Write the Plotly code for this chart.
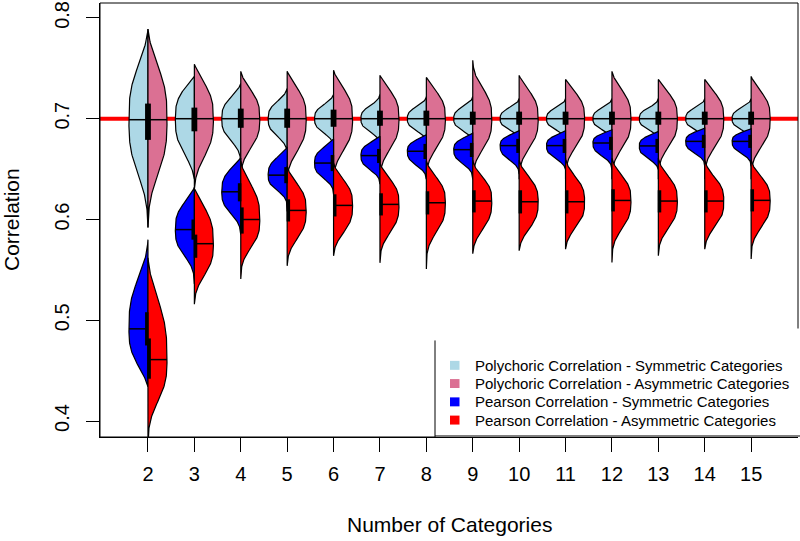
import numpy as np
import plotly.graph_objects as go

# ---------------- data ----------------
categories = [2, 3, 4, 5, 6, 7, 8, 9, 10, 11, 12, 13, 14, 15]

# Polychoric correlation - symmetric categories (left half, light blue)
ps_med = [0.699, 0.700, 0.700, 0.700, 0.700, 0.700, 0.700, 0.700, 0.700, 0.700, 0.700, 0.700, 0.700, 0.700]
ps_lo = [0.592, 0.640, 0.650, 0.660, 0.665, 0.668, 0.670, 0.672, 0.673, 0.674, 0.675, 0.675, 0.676, 0.676]
ps_hi = [0.789, 0.742, 0.735, 0.730, 0.724, 0.724, 0.722, 0.722, 0.720, 0.720, 0.720, 0.720, 0.720, 0.720]
ps_sd = [0.050, 0.033, 0.020, 0.016, 0.013, 0.012, 0.011, 0.011, 0.010, 0.010, 0.010, 0.010, 0.010, 0.010]

# Polychoric correlation - asymmetric categories (right half, pink)
pa_med = [0.699, 0.700, 0.700, 0.700, 0.700, 0.700, 0.700, 0.700, 0.700, 0.700, 0.700, 0.700, 0.700, 0.700]
pa_lo = [0.592, 0.630, 0.640, 0.640, 0.640, 0.640, 0.640, 0.640, 0.640, 0.640, 0.640, 0.640, 0.640, 0.640]
pa_hi = [0.789, 0.754, 0.747, 0.747, 0.748, 0.743, 0.741, 0.758, 0.743, 0.739, 0.747, 0.739, 0.739, 0.742]
pa_sd = [0.050, 0.035, 0.027, 0.030, 0.029, 0.028, 0.027, 0.028, 0.027, 0.026, 0.027, 0.026, 0.026, 0.026]
poly_q1 = [0.679, 0.6875, 0.691, 0.691, 0.692, 0.693, 0.693, 0.694, 0.694, 0.694, 0.694, 0.694, 0.694, 0.694]
poly_q3 = [0.715, 0.711, 0.710, 0.710, 0.709, 0.708, 0.708, 0.707, 0.707, 0.707, 0.707, 0.707, 0.707, 0.707]

# Pearson correlation - symmetric categories (left half, blue)
bs_med = [0.4915, 0.590, 0.6275, 0.644, 0.656, 0.6634, 0.6677, 0.6693, 0.6733, 0.6733, 0.6759, 0.673, 0.6775, 0.6775]
bs_lo = [0.434, 0.536, 0.585, 0.608, 0.625, 0.635, 0.640, 0.640, 0.645, 0.6496, 0.6496, 0.6496, 0.6528, 0.6528]
bs_hi = [0.580, 0.632, 0.661, 0.672, 0.680, 0.6825, 0.684, 0.6857, 0.688, 0.688, 0.689, 0.6874, 0.6907, 0.690]
bs_sd_up = [0.046, 0.026, 0.024, 0.017, 0.015, 0.013, 0.012, 0.012, 0.011, 0.011, 0.010, 0.011, 0.010, 0.010]
bs_sd_dn = [0.035, 0.024, 0.020, 0.014, 0.014, 0.013, 0.013, 0.013, 0.013, 0.012, 0.012, 0.012, 0.011, 0.011]
bs_q1 = [0.475, 0.580, 0.618, 0.636, 0.648, 0.656, 0.660, 0.662, 0.666, 0.666, 0.669, 0.666, 0.671, 0.671]
bs_q3 = [0.508, 0.600, 0.636, 0.652, 0.664, 0.670, 0.675, 0.676, 0.680, 0.680, 0.682, 0.680, 0.684, 0.684]

# Pearson correlation - asymmetric categories (right half, red)
ba_med = [0.461, 0.576, 0.600, 0.609, 0.614, 0.615, 0.6166, 0.6183, 0.6176, 0.6176, 0.6189, 0.6183, 0.6183, 0.619]
ba_lo = [0.375, 0.516, 0.541, 0.554, 0.564, 0.557, 0.551, 0.566, 0.569, 0.5706, 0.5573, 0.564, 0.5706, 0.5608]
ba_hi = [0.562, 0.631, 0.658, 0.653, 0.656, 0.656, 0.658, 0.659, 0.659, 0.661, 0.661, 0.661, 0.6594, 0.6594]
ba_sd_up = [0.056, 0.036, 0.033, 0.025, 0.024, 0.024, 0.024, 0.022, 0.023, 0.023, 0.023, 0.023, 0.022, 0.022]
ba_sd_dn = [0.038, 0.029, 0.026, 0.026, 0.025, 0.026, 0.027, 0.026, 0.025, 0.024, 0.026, 0.025, 0.024, 0.025]
ba_q1 = [0.442, 0.562, 0.586, 0.598, 0.603, 0.604, 0.605, 0.607, 0.606, 0.606, 0.608, 0.607, 0.607, 0.608]
ba_q3 = [0.482, 0.585, 0.612, 0.620, 0.625, 0.626, 0.628, 0.629, 0.629, 0.629, 0.630, 0.629, 0.629, 0.630]

y_ticks = [0.4, 0.5, 0.6, 0.7, 0.8]
y_ticktext = ["0.4", "0.5", "0.6", "0.7", "0.8"]
ref_value = 0.7

legend_labels = [
    "Polychoric Correlation - Symmetric Categories",
    "Polychoric Correlation - Asymmetric Categories",
    "Pearson Correlation - Symmetric Categories",
    "Pearson Correlation - Asymmetric Categories",
]
COL_PS = "#ADD8E6"
COL_PA = "#DB7093"
COL_BS = "#0000FF"
COL_BA = "#FF0000"
legend_colors = [COL_PS, COL_PA, COL_BS, COL_BA]

# ---------------- drawing ----------------
HALF_W = 0.41
EXP = 3.0
FONT = "Liberation Sans, Arial, Helvetica, sans-serif"

fig = go.Figure()


def profile(med, lo, hi, s_up, s_dn, n=160):
    v = np.unique(np.concatenate([np.linspace(lo, hi, n), [med]]))
    d = v - med
    s = np.where(d >= 0, s_up, s_dn)
    ext = np.where(d >= 0, hi - med, med - lo)
    g = np.exp(-0.5 * np.abs(d / s) ** EXP)
    gend = np.exp(-0.5 * (ext / s) ** EXP)
    r = np.clip((g - gend) / (1 - gend), 0, 1)
    return v, r


def add_half(c, side, med, lo, hi, s_up, s_dn, color):
    v, r = profile(med, lo, hi, s_up, s_dn)
    xs = list(c + side * HALF_W * r) + [c, c]
    ys = list(v) + [hi, lo]
    fig.add_trace(go.Scatter(
        x=xs, y=ys, mode="lines", fill="toself", fillcolor=color,
        line=dict(color="black", width=1.2), hoverinfo="skip", showlegend=False))


def add_details(groups):
    mx, my, bx, by = [], [], [], []
    for (c, side, med, q1, q3) in groups:
        mx += [c, c + side * HALF_W, None]
        my += [med, med, None]
        bx += [c + side * 0.025, c + side * 0.025, None]
        by += [q1, q3, None]
    fig.add_trace(go.Scatter(x=mx, y=my, mode="lines", line=dict(color="black", width=1.5),
                             hoverinfo="skip", showlegend=False))
    fig.add_trace(go.Scatter(x=bx, y=by, mode="lines", line=dict(color="black", width=3.5),
                             hoverinfo="skip", showlegend=False))


# polychoric first
det = []
for i, c in enumerate(categories):
    add_half(c, -1, ps_med[i], ps_lo[i], ps_hi[i], ps_sd[i], ps_sd[i], COL_PS)
    add_half(c, +1, pa_med[i], pa_lo[i], pa_hi[i], pa_sd[i], pa_sd[i], COL_PA)
    det.append((c, -1, ps_med[i], poly_q1[i], poly_q3[i]))
    det.append((c, +1, pa_med[i], poly_q1[i], poly_q3[i]))
add_details(det)

# pearson on top
det = []
for i, c in enumerate(categories):
    add_half(c, -1, bs_med[i], bs_lo[i], bs_hi[i], bs_sd_up[i], bs_sd_dn[i], COL_BS)
    add_half(c, +1, ba_med[i], ba_lo[i], ba_hi[i], ba_sd_up[i], ba_sd_dn[i], COL_BA)
    det.append((c, -1, bs_med[i], bs_q1[i], bs_q3[i]))
    det.append((c, +1, ba_med[i], ba_q1[i], ba_q3[i]))
add_details(det)

# plot geometry (pixels) used for placing legend / titles
L, R, T, B = 100, 2, 1, 104
PW, PH = 800 - L - R, 541 - T - B


def px_x(p):
    return (p - L) / PW


def px_y(p):
    return (541 - B - p) / PH


shapes = [
    dict(type="line", xref="paper", x0=0, x1=1, yref="y", y0=ref_value, y1=ref_value,
         line=dict(color="#FF0000", width=4), layer="below"),
    dict(type="rect", xref="paper", yref="paper", x0=0, x1=1, y0=0, y1=1,
         line=dict(color="black", width=1), layer="above"),
    # legend background
    dict(type="rect", xref="paper", yref="paper", x0=px_x(435), x1=1.01, y0=px_y(437), y1=px_y(328),
         fillcolor="white", line=dict(width=0), layer="above"),
    dict(type="line", xref="paper", yref="paper", x0=px_x(435), x1=px_x(435), y0=px_y(437), y1=px_y(340),
         line=dict(color="black", width=1), layer="above"),
    dict(type="line", xref="paper", yref="paper", x0=px_x(435), x1=1.01, y0=px_y(436), y1=px_y(436),
         line=dict(color="black", width=1), layer="above"),
]
annotations = []
row_y = [365, 383.3, 401.7, 420]
for lab, col, yy in zip(legend_labels, legend_colors, row_y):
    shapes.append(dict(type="rect", xref="paper", yref="paper",
                       x0=px_x(450), x1=px_x(459.5), y0=px_y(yy + 4.5), y1=px_y(yy - 4.5),
                       fillcolor=col, line=dict(width=0), layer="above"))
    annotations.append(dict(text=lab, xref="paper", yref="paper", x=px_x(473), y=px_y(yy),
                            xanchor="left", yanchor="middle", showarrow=False,
                            font=dict(family=FONT, size=15, color="black")))

annotations.append(dict(text="Correlation", xref="paper", yref="paper", x=px_x(11), y=0.5,
                        textangle=-90, xanchor="center", yanchor="middle", showarrow=False,
                        font=dict(family=FONT, size=21, color="black")))
annotations.append(dict(text="Number of Categories", xref="paper", yref="paper", x=0.5, y=px_y(525),
                        xanchor="center", yanchor="middle", showarrow=False,
                        font=dict(family=FONT, size=21, color="black")))

fig.update_layout(
    width=800, height=541,
    margin=dict(l=L, r=R, t=T, b=B),
    paper_bgcolor="white", plot_bgcolor="white",
    showlegend=False,
    shapes=shapes, annotations=annotations,
    font=dict(family=FONT, size=20, color="black"),
    xaxis=dict(range=[0.966, 16.01], tickvals=categories, ticktext=[str(c) for c in categories],
               ticks="outside", ticklen=14, tickwidth=1, tickcolor="black", ticklabelstandoff=5,
               showgrid=False, zeroline=False, showline=True, linecolor="black", linewidth=1,
               tickfont=dict(family=FONT, size=20, color="black")),
    yaxis=dict(range=[0.3842, 0.8148], tickvals=y_ticks, ticktext=y_ticktext,
               ticks="outside", ticklen=13, tickwidth=1, tickcolor="black", tickangle=-90,
               ticklabelstandoff=9, ticklabeloverflow="allow",
               showgrid=False, zeroline=False, showline=True, linecolor="black", linewidth=1,
               tickfont=dict(family=FONT, size=20, color="black")),
)

fig.write_html("out.html", config={"displayModeBar": False, "staticPlot": True},
               post_script="document.body.style.margin='0';document.body.style.overflow='hidden';")
